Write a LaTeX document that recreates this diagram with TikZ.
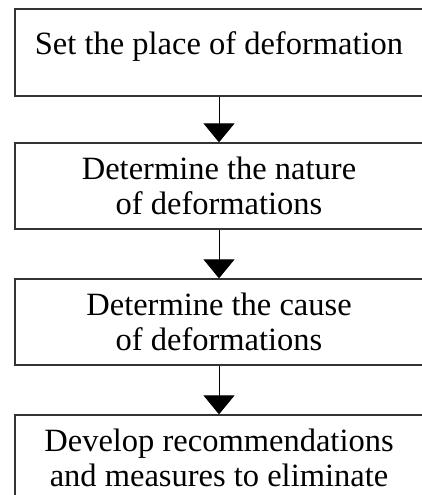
\documentclass[tikz,border=0pt]{standalone}
\usepackage{fontspec}
\setmainfont{Liberation Serif}
\usetikzlibrary{arrows.meta}
\tikzset{
  stepbox/.style={draw=black!80, line width=1.3pt, rectangle, minimum width=408pt,
    minimum height=86pt, inner sep=0pt, align=center,
    font=\fontsize{32.5}{35}\selectfont, text=black},
  flowarrow/.style={draw=black, line width=1pt, -{Triangle[width=31pt,length=19pt]}}
}
\begin{document}
\begin{tikzpicture}[x=1pt,y=-1pt]
\useasboundingbox (0,0) rectangle (422,495);
\fill[white] (0,0) rectangle (422,495);
\clip (0,0) rectangle (422,495);
\node[stepbox, minimum height=87pt, text height=23pt, text depth=18pt] (b1) at (219,52.5) {Set the place of deformation};
\node[stepbox] (b2) at (219,186) {Determine the nature\\of deformations};
\node[stepbox] (b3) at (219,322) {Determine the cause\\of deformations};
\node[stepbox] (b4) at (219,458) {Develop recommendations\\and measures to eliminate};
\draw[flowarrow] (b1.south) -- (b2.north);
\draw[flowarrow] (b2.south) -- (b3.north);
\draw[flowarrow] (b3.south) -- (b4.north);
\end{tikzpicture}
\end{document}
